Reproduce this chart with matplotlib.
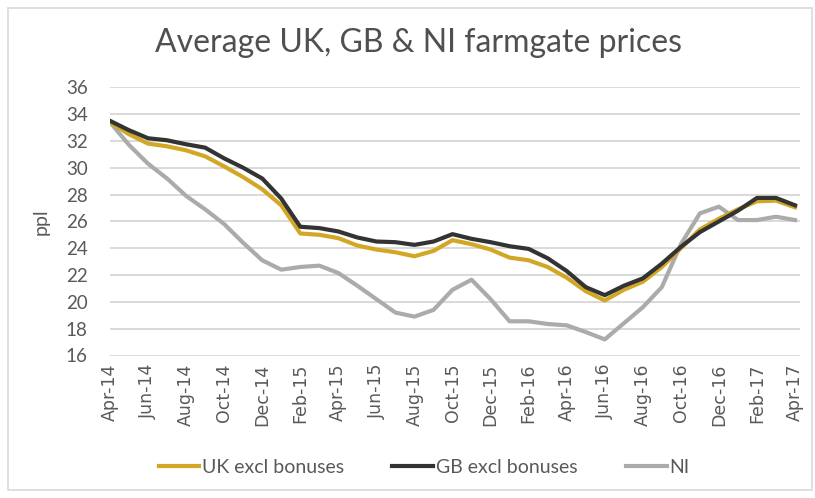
import matplotlib
matplotlib.use("Agg")
import matplotlib.pyplot as plt
from matplotlib.patches import Rectangle

################################################## Data
months = [
    "Apr-14", "May-14", "Jun-14", "Jul-14", "Aug-14", "Sep-14", "Oct-14",
    "Nov-14", "Dec-14", "Jan-15", "Feb-15", "Mar-15", "Apr-15", "May-15",
    "Jun-15", "Jul-15", "Aug-15", "Sep-15", "Oct-15", "Nov-15", "Dec-15",
    "Jan-16", "Feb-16", "Mar-16", "Apr-16", "May-16", "Jun-16", "Jul-16",
    "Aug-16", "Sep-16", "Oct-16", "Nov-16", "Dec-16", "Jan-17", "Feb-17",
    "Mar-17", "Apr-17",
]

uk_excl = [
    33.4, 32.5, 31.8, 31.6, 31.3, 30.85, 30.1, 29.3, 28.4, 27.2,
    25.1, 25.0, 24.75, 24.2, 23.9, 23.7, 23.4, 23.8, 24.6, 24.3,
    23.9, 23.3, 23.1, 22.6, 21.8, 20.8, 20.1, 20.9, 21.5, 22.6,
    24.0, 25.4, 26.2, 26.9, 27.5, 27.55, 27.05,
]

gb_excl = [
    33.5, 32.8, 32.2, 32.05, 31.75, 31.5, 30.7, 30.0, 29.2, 27.7,
    25.6, 25.5, 25.25, 24.8, 24.5, 24.45, 24.25, 24.5, 25.05, 24.7,
    24.45, 24.15, 23.95, 23.25, 22.3, 21.1, 20.5, 21.2, 21.75, 22.85,
    24.1, 25.2, 26.0, 26.8, 27.75, 27.75, 27.2,
]

ni = [
    33.4, 31.7, 30.3, 29.2, 27.9, 26.9, 25.8, 24.4, 23.1, 22.4,
    22.6, 22.7, 22.15, 21.2, 20.2, 19.2, 18.9, 19.4, 20.9, 21.65,
    20.2, 18.55, 18.55, 18.35, 18.25, 17.75, 17.2, 18.4, 19.6, 21.1,
    24.3, 26.6, 27.1, 26.1, 26.1, 26.35, 26.1,
]

series = [
    ("UK excl bonuses", uk_excl, "#D2A725"),
    ("GB excl bonuses", gb_excl, "#333333"),
    ("NI", ni, "#ABABAB"),
]

y_ticks = list(range(16, 37, 2))

################################################## Plot
plt.rcParams["font.family"] = ["Lato", "DejaVu Sans"]
text_col = "#595959"

fig = plt.figure(figsize=(8.15, 4.98), dpi=100)
ax = fig.add_axes([110 / 815, 1 - 355.5 / 498, 690 / 815, (355.5 - 87.3) / 498])

x = list(range(len(months)))
# NI first so the UK/GB lines sit on top
for name, vals, col in [series[2], series[0], series[1]]:
    ax.plot(x, vals, color=col, linewidth=3.0, label=name,
            solid_joinstyle="round", zorder=3)

ax.set_xlim(0, 36.26)
ax.set_ylim(16, 36)
ax.set_yticks(y_ticks)
ax.set_xticks(x[::2])
ax.set_xticklabels(months[::2], rotation=90)
ax.tick_params(axis="y", labelsize=13.5, labelcolor=text_col, length=0, pad=16)
ax.tick_params(axis="x", length=0, pad=6)
for lbl in ax.get_xticklabels():
    lbl.set_fontfamily("DejaVu Sans")
    lbl.set_fontsize(12.5)
    lbl.set_color(text_col)

ax.grid(axis="y", color="#D9D9D9", linewidth=1.4)
ax.set_axisbelow(True)
for s in ax.spines.values():
    s.set_visible(False)

ax.set_ylabel("ppl", fontsize=14, color=text_col, labelpad=12)

fig.text(0.514, 1 - 43 / 498, "Average UK, GB & NI farmgate prices",
         ha="center", va="center", fontsize=23, color="#505050")

handles, labels = ax.get_legend_handles_labels()
order = [labels.index(s[0]) for s in series]
leg = fig.legend([handles[i] for i in order], [labels[i] for i in order],
                 loc="center", bbox_to_anchor=(0.52, 1 - 467 / 498), ncol=3,
                 frameon=False, handlelength=2.1, handletextpad=0.12,
                 columnspacing=2.5, prop={"family": "Lato", "size": 14})
for t in leg.get_texts():
    t.set_color(text_col)

# light frame around the whole chart
fig.patches.append(Rectangle((8 / 815, 8 / 498), 804 / 815, 482 / 498,
                             transform=fig.transFigure, fill=False,
                             edgecolor="#D9D9D9", linewidth=1.2))

fig.savefig("out.png", dpi=100)
